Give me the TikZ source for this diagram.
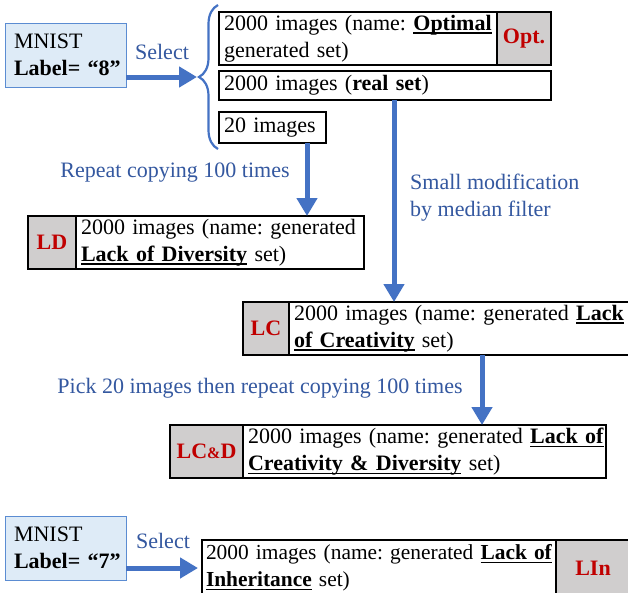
\documentclass[tikz,border=0pt]{standalone}
\usepackage{fontspec}
\setmainfont{Liberation Serif}
\usetikzlibrary{arrows.meta,positioning,decorations.pathreplacing}

\definecolor{flowblue}{RGB}{68,114,196}
\definecolor{noteblue}{RGB}{52,88,160}
\definecolor{mnistfill}{RGB}{222,235,247}
\definecolor{mnistline}{RGB}{91,140,210}
\definecolor{tagfill}{RGB}{208,206,206}
\definecolor{tagred}{RGB}{192,0,0}

\newcommand{\setfont}{\fontsize{22}{27}\selectfont\frenchspacing}
\newcommand{\setname}[1]{\leavevmode\setbox0\hbox{\textbf{#1}}%
  \rlap{\raisebox{-3.5pt}{\rule{\wd0}{1.3pt}}}\box0\relax}

\tikzset{setbox/.style = {draw, line width=1.2pt, fill=white, outer sep=0pt,
                          inner xsep=5pt, inner ysep=0pt, align=left,
                          anchor=north west, font=\setfont, text width=#1},
         setbox/.default=200pt,
         tagbox/.style = {draw, line width=1.2pt, fill=tagfill, outer sep=0pt,
                          inner sep=0pt, text=tagred, font=\setfont\bfseries},
         mnistbox/.style = {draw=mnistline, line width=1pt, fill=mnistfill,
                            outer sep=0pt, inner xsep=9pt, inner ysep=0pt,
                            align=left, anchor=north west, font=\setfont,
                            text width=103pt, minimum width=121pt,
                            minimum height=64pt},
         flow/.style = {draw=flowblue, line width=5pt,
                        -{Triangle[width=20pt,length=18pt]}},
         setbrace/.style = {draw=flowblue, line width=2.2pt,
                            decorate, decoration={brace, amplitude=19pt}},
         note/.style = {text=noteblue, font=\setfont, align=left, inner sep=0pt}
        }

\begin{document}
\begin{tikzpicture}[x=1pt, y=-1pt]
\useasboundingbox (0,0) rectangle (628,592);
\fill[white] (0,0) rectangle (628,592);
\clip (0,0) rectangle (628,592);

% digit 8
\node[mnistbox] (mnist8) at (5,23) {MNIST\\\mbox{\textbf{Label= “8”}}};
\node[note] (sel8) at (162,52) {Select};
\draw[setbrace] (218,149) -- (218,5);
\coordinate (tip8) at (197,77);
\draw[flow] (mnist8.east |- tip8) -- (tip8);

\node[setbox=268pt, minimum height=53pt] (opt) at (219,12)
     {\mbox{2000 images (name: \setname{Optimal}}\\generated set)};
\node[tagbox, minimum width=54pt, minimum height=53pt, right=0pt of opt] (opttag) {Opt.};
\node[setbox=322pt, minimum height=29pt] (real) at (219,71)
     {2000 images (\textbf{real set})};
\node[setbox=97pt, minimum height=31pt] (twenty) at (219,112) {20 images};

% lack of diversity
\node[tagbox, anchor=north west, minimum width=48pt, minimum height=53pt] (ldtag) at (28,216) {LD};
\node[setbox=278pt, minimum height=53pt, anchor=west, right=0pt of ldtag] (ld)
     {\mbox{2000 images (name: generated}\\\setname{Lack of Diversity} set)};
\coordinate (c20) at ([xshift=-19pt]twenty.south east);
\draw[flow] (c20) -- (c20 |- ld.north);
\node[note] (rep) at (175,173) {Repeat copying 100 times};

% lack of creativity
\node[tagbox, anchor=north west, minimum width=46pt, minimum height=53pt] (lctag) at (243,302) {LC};
\node[setbox=330pt, minimum height=53pt, anchor=west, right=0pt of lctag] (lc)
     {\mbox{2000 images (name: generated \setname{Lack}}\\\setname{of Creativity} set)};
\coordinate (creal) at ([xshift=175pt]real.south west);
\draw[flow] (creal) -- (creal |- lc.north);
\node[note, anchor=west] (med) at (410,198) {Small modification\\by median filter};

% lack of creativity and diversity
\node[tagbox, anchor=north west, minimum width=73pt, minimum height=53pt] (lcdtag) at (170,425)
     {LC{\fontsize{16}{16}\selectfont\&}D};
\node[setbox=353pt, minimum height=53pt, anchor=west, right=0pt of lcdtag] (lcd)
     {\mbox{2000 images (name: generated \setname{Lack of}}\\\setname{Creativity \& Diversity} set)};
\coordinate (clc) at ([xshift=193pt]lc.south west);
\draw[flow] (clc) -- (clc |- lcd.north);
\node[note] (pick) at (260,388) {Pick 20 images then repeat copying 100 times};

% digit 7
\node[mnistbox] (mnist7) at (5,516) {MNIST\\\mbox{\textbf{Label= “7”}}};
\node[note] (sel7) at (163,541) {Select};
\node[setbox=346pt, inner xsep=4pt, minimum height=56pt,
      font=\fontsize{21.4}{27}\selectfont\frenchspacing] (lin) at (202,540)
     {\mbox{2000 images (name: generated \setname{Lack of}}\\\setname{Inheritance} set)};
\node[tagbox, minimum width=74pt, minimum height=56pt, right=0pt of lin] (lintag) {LIn};
\coordinate (tip7) at ([xshift=-4pt]lin.west);
\draw[flow] (mnist7.east |- tip7) -- (tip7);
\end{tikzpicture}
\end{document}
